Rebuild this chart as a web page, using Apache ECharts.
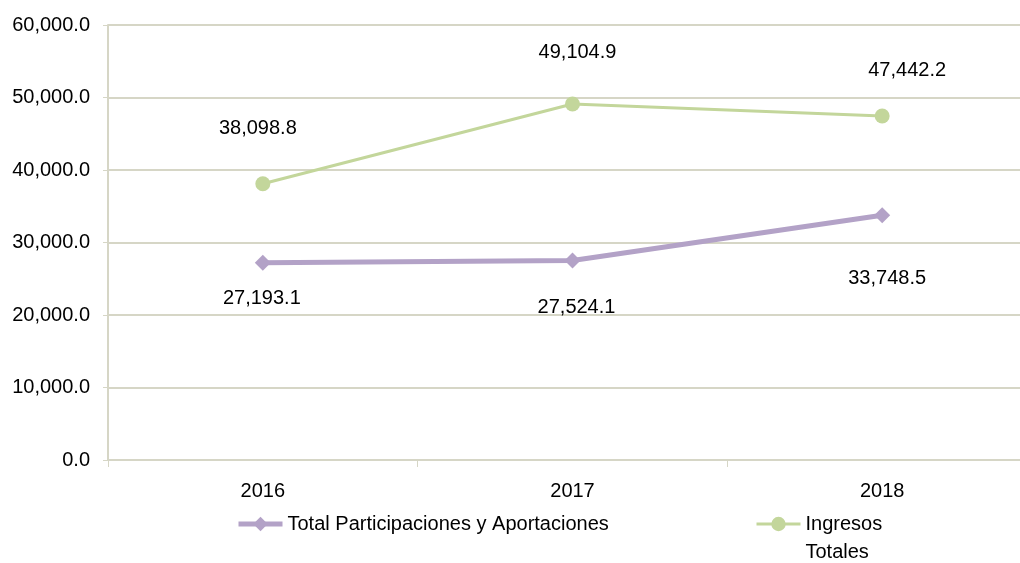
<!DOCTYPE html>
<html>
<head>
    <meta charset="utf-8">
    <script src="https://cdn.jsdelivr.net/npm/echarts@6/dist/echarts.min.js"></script>
    <style>
    html, body { margin: 0; padding: 0; background: #fff; }
    #main { width: 1020px; height: 563px; }
    </style>
</head>
<body>
    <div id="main"></div>
    <script type="text/javascript">
        // datos del grafico
        var years = ['2016', '2017', '2018'];
        var participaciones = [27193.1, 27524.1, 33748.5];
        var ingresos = [38098.8, 49104.9, 47442.2];
        var yTicks = [0, 10000, 20000, 30000, 40000, 50000, 60000];

        var fontFam = "'Liberation Sans', Arial, sans-serif";
        var fs = 20;
        var fmt = function (v) {
            return Number(v).toLocaleString('en-US', { minimumFractionDigits: 1, maximumFractionDigits: 1 });
        };

        // desplazamiento de cada etiqueta respecto a su punto
        var offIngresos = [[-5, -55], [5, -52], [25, -46]];
        var offPart = [[-1, 36], [4, 47], [5, 63]];

        function withLabels(vals, offs) {
            return vals.map(function (v, i) {
                return { value: v, label: { offset: offs[i] } };
            });
        }

        var myChart = echarts.init(document.getElementById('main'));

        var labelBase = {
            show: true,
            position: 'inside',
            fontFamily: fontFam,
            fontSize: fs,
            color: '#000',
            formatter: function (p) { return fmt(p.value); }
        };

        var option = {
            animation: false,
            textStyle: { fontFamily: fontFam },
            grid: {
                left: 108, right: -17, top: 25, bottom: 103,
                containLabel: false, outerBoundsMode: 'none'
            },
            legend: [
                {
                    data: ['Total Participaciones y Aportaciones'],
                    left: 231, top: 509,
                    itemWidth: 44, itemHeight: 18, itemGap: 4,
                    lineStyle: { width: 5 },
                    textStyle: { fontFamily: fontFam, fontSize: fs, color: '#000' }
                },
                {
                    data: ['Ingresos Totales'],
                    left: 750, top: 477,
                    itemWidth: 44, itemHeight: 18, itemGap: 4,
                    lineStyle: { width: 3 },
                    // linea vacia arriba para que el icono quede junto a "Ingresos"
                    formatter: function (n) { return ' \n' + n.replace(' ', '\n'); },
                    textStyle: {
                        fontFamily: fontFam, fontSize: fs, color: '#000',
                        lineHeight: 28
                    }
                }
            ],
            xAxis: {
                type: 'category',
                data: years,
                boundaryGap: true,
                axisLine: { lineStyle: { color: '#d6d6c6', width: 2 } },
                axisTick: { show: true, length: 7, lineStyle: { color: '#d6d6c6', width: 1 } },
                axisLabel: { color: '#000', fontSize: fs, fontFamily: fontFam, margin: 21 }
            },
            yAxis: {
                type: 'value',
                min: 0, max: 60000, interval: 10000,
                axisLine: { show: true, lineStyle: { color: '#d6d6c6', width: 2 } },
                axisTick: { show: true, length: 5, lineStyle: { color: '#d6d6c6' } },
                splitLine: { lineStyle: { color: '#d6d6c6', width: 2 } },
                axisLabel: {
                    color: '#000', fontSize: fs, fontFamily: fontFam, margin: 18,
                    customValues: yTicks,
                    formatter: function (v) { return fmt(v); }
                }
            },
            series: [
                {
                    name: 'Total Participaciones y Aportaciones',
                    type: 'line',
                    data: withLabels(participaciones, offPart),
                    symbol: 'diamond',
                    symbolSize: 16,
                    itemStyle: { color: '#b3a2c7' },
                    lineStyle: { color: '#b3a2c7', width: 5 },
                    label: labelBase
                },
                {
                    name: 'Ingresos Totales',
                    type: 'line',
                    data: withLabels(ingresos, offIngresos),
                    symbol: 'circle',
                    symbolSize: 15,
                    itemStyle: { color: '#c3d69b' },
                    lineStyle: { color: '#c3d69b', width: 3 },
                    label: labelBase
                }
            ]
        };

        myChart.setOption(option);
    </script>
</body>
</html>
